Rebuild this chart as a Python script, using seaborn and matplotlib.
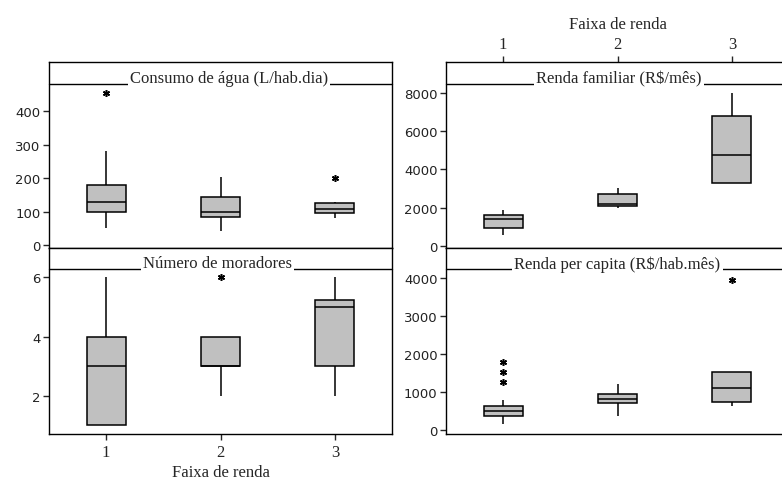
import matplotlib
matplotlib.use("Agg")
import matplotlib.pyplot as plt
import seaborn as sns
import pandas as pd

faixas = ["1", "2", "3"]

consumo_1 = [50, 80, 100, 115, 130, 150, 180, 280, 455]
consumo_2 = [42, 70, 85, 92, 98, 120, 142, 170, 203]
consumo_3 = [80, 90, 95, 100, 108, 115, 125, 130, 200]

renda_fam_1 = [560, 800, 950, 1200, 1400, 1500, 1600, 1700, 1850]
renda_fam_2 = [1975, 2000, 2065, 2100, 2200, 2500, 2710, 2900, 3000]
renda_fam_3 = [3270, 3270, 3270, 4000, 4750, 5500, 6800, 7500, 8000]

moradores_1 = [1, 1, 1, 2, 3, 3, 4, 5, 6]
moradores_2 = [2, 3, 3, 3, 3, 4, 4, 4, 6]
moradores_3 = [2, 3, 3, 5, 5, 5, 6, 6]

renda_pc_1 = [158, 250, 300, 340, 376, 420, 450, 470, 490, 540, 580, 610, 640,
              790, 1270, 1518, 1800]
renda_pc_2 = [376, 600, 700, 760, 816, 880, 940, 1100, 1202]
renda_pc_3 = [640, 700, 745, 900, 1097, 1300, 1535, 1535, 3950]

titles = ["Consumo de água (L/hab.dia)", "Renda familiar (R$/mês)",
          "Número de moradores", "Renda per capita (R$/hab.mês)"]
yticks_cons = [0, 100, 200, 300, 400]
yticks_fam = [0, 2000, 4000, 6000, 8000]
yticks_mor = [2, 4, 6]
yticks_pc = [0, 1000, 2000, 3000, 4000]
xlabel = "Faixa de renda"


def frame(groups):
    rows = []
    for f, vals in zip(faixas, groups):
        for v in vals:
            rows.append({"faixa": f, "valor": v})
    return pd.DataFrame(rows)


sns.set_style("white")
plt.rcParams["font.family"] = ["Liberation Serif", "DejaVu Serif"]

W, H = 782, 481
fig = plt.figure(figsize=(W / 100, H / 100), dpi=100)


def axes_px(x0, y0, x1, y1):
    return fig.add_axes([x0 / W, 1 - y1 / H, (x1 - x0) / W, (y1 - y0) / H])


ax_tl = axes_px(49, 63, 392, 249)
ax_tr = axes_px(446, 63, 789, 249)
ax_bl = axes_px(49, 249, 392, 435)
ax_br = axes_px(446, 249, 789, 435)

panels = [
    (ax_tl, [consumo_1, consumo_2, consumo_3], titles[0], yticks_cons, (-9, 547), 0.525),
    (ax_tr, [renda_fam_1, renda_fam_2, renda_fam_3], titles[1], yticks_fam, (-120, 9623), 0.505),
    (ax_bl, [moradores_1, moradores_2, moradores_3], titles[2], yticks_mor, (0.706, 6.99), 0.49),
    (ax_br, [renda_pc_1, renda_pc_2, renda_pc_3], titles[3], yticks_pc, (-105, 4789), 0.5),
]

strip_frac = {ax_tl: 0.882, ax_tr: 0.882, ax_bl: 0.887, ax_br: 0.887}

for ax, groups, title, yt, ylim, tx in panels:
    df = frame(groups)
    sns.boxplot(data=df, x="faixa", y="valor", order=faixas, ax=ax,
                width=0.34, color="#c0c0c0", saturation=1, linecolor="black",
                linewidth=1.1, showcaps=False, whis=1.5,
                flierprops=dict(marker=(6, 2, 0), markersize=5,
                                markeredgecolor="black", markeredgewidth=1.1),
                medianprops=dict(color="black", linewidth=1.1))
    ax.set_xlim(-0.5, 2.5)
    ax.set_ylim(*ylim)
    ax.set_yticks(yt)
    ax.set_yticklabels([str(v) for v in yt], family=["DejaVu Sans"], fontsize=9.5,
                       color="#222222")
    ax.set_xlabel("")
    ax.set_ylabel("")
    for s in ax.spines.values():
        s.set_visible(True)
        s.set_color("black")
        s.set_linewidth(1.0)
    ax.tick_params(axis="y", direction="out", length=4, width=1, left=True, pad=2)
    f = strip_frac[ax]
    ax.plot([0, 1], [f, f], transform=ax.transAxes, color="black", lw=1.0,
            clip_on=False, zorder=3)
    ax.text(tx, f + 0.03, title, transform=ax.transAxes, ha="center", va="center",
            fontsize=12, zorder=4,
            bbox=dict(facecolor="white", edgecolor="none", pad=1.5))

# x axes: bottom-left shows ticks at bottom, top-right shows ticks at top
for ax in (ax_tl, ax_br):
    ax.tick_params(axis="x", bottom=False, top=False, labelbottom=False, labeltop=False)
ax_bl.tick_params(axis="x", bottom=True, direction="out", length=4, width=1,
                  labelsize=12, pad=3)
ax_bl.set_xticks([0, 1, 2])
ax_bl.set_xticklabels(faixas)
ax_bl.set_xlabel(xlabel, fontsize=12, labelpad=3)

ax_tr.xaxis.set_label_position("top")
ax_tr.xaxis.tick_top()
ax_tr.set_xticks([0, 1, 2])
ax_tr.set_xticklabels(faixas)
ax_tr.tick_params(axis="x", top=True, bottom=False, direction="out", length=4,
                  width=1, labelsize=12, pad=3)
ax_tr.set_xlabel(xlabel, fontsize=12, labelpad=6)

fig.savefig("out.png", dpi=100)
